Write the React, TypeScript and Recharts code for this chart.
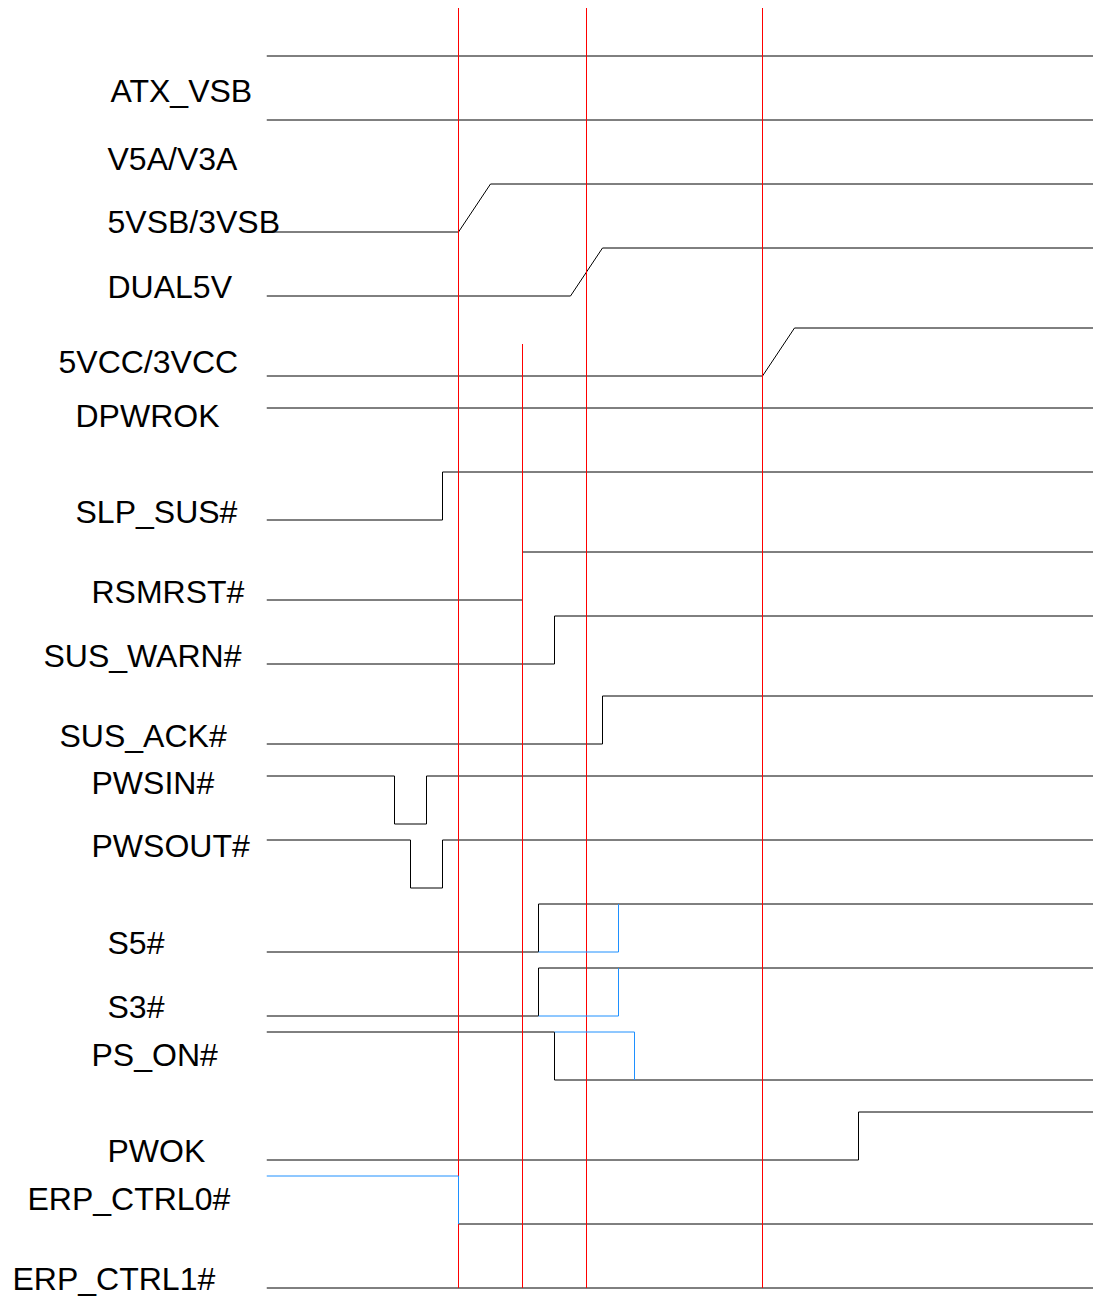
import { LineChart, Line, XAxis, YAxis } from "recharts";

type Pt = [number, number];

// time axis in 16px steps, level axis in 16px rows from the top
const T_END = 51.6875;
const Y_END = 80.625;

const labels = [
  "ATX_VSB", "V5A/V3A", "5VSB/3VSB", "DUAL5V", "5VCC/3VCC", "DPWROK",
  "SLP_SUS#", "RSMRST#", "SUS_WARN#", "SUS_ACK#", "PWSIN#", "PWSOUT#",
  "S5#", "S3#", "PS_ON#", "PWOK", "ERP_CTRL0#", "ERP_CTRL1#",
];
const labelRows = [
  5.16, 9.41, 13.34, 17.41, 22.09, 25.47, 31.47, 36.47, 40.47, 45.47,
  48.41, 52.34, 58.41, 62.41, 65.41, 71.41, 74.41, 79.41,
];
const labelLeft = [102, 99, 99, 99, 50, 67, 67, 83, 35, 51, 83, 83, 99, 99, 83, 99, 19, 4];

const atxVsb: Pt[] = [[0, 3], [T_END, 3]];
const v5a: Pt[] = [[0, 7], [T_END, 7]];
const vsb5: Pt[] = [[0, 14], [12, 14], [14, 11], [T_END, 11]];
const dual5v: Pt[] = [[0, 18], [19, 18], [21, 15], [T_END, 15]];
const vcc5: Pt[] = [[0, 23], [31, 23], [33, 20], [T_END, 20]];
const dpwrok: Pt[] = [[0, 25], [T_END, 25]];
const slpSus: Pt[] = [[0, 32], [11, 32], [11, 29], [T_END, 29]];
const rsmrst: Pt[] = [[0, 37], [16, 37], [16, 34], [T_END, 34]];
const susWarn: Pt[] = [[0, 41], [18, 41], [18, 38], [T_END, 38]];
const susAck: Pt[] = [[0, 46], [21, 46], [21, 43], [T_END, 43]];
const pwsin: Pt[] = [[0, 48], [8, 48], [8, 51], [10, 51], [10, 48], [T_END, 48]];
const pwsout: Pt[] = [[0, 52], [9, 52], [9, 55], [11, 55], [11, 52], [T_END, 52]];
const s5: Pt[] = [[0, 59], [17, 59], [17, 56], [T_END, 56]];
const s3: Pt[] = [[0, 63], [17, 63], [17, 60], [T_END, 60]];
const psOn: Pt[] = [[0, 64], [18, 64], [18, 67], [T_END, 67]];
const pwok: Pt[] = [[0, 72], [37, 72], [37, 69], [T_END, 69]];
const erp0: Pt[] = [[12, 76], [T_END, 76]];
const erp1: Pt[] = [[0, 80], [T_END, 80]];

const blackTraces = [
  atxVsb, v5a, vsb5, dual5v, vcc5, dpwrok, slpSus, rsmrst, susWarn,
  susAck, pwsin, pwsout, s5, s3, psOn, pwok, erp0, erp1,
];

// optional paths drawn in blue
const s5Alt: Pt[] = [[17, 59], [22, 59], [22, 56]];
const s3Alt: Pt[] = [[17, 63], [22, 63], [22, 60]];
const psOnAlt: Pt[] = [[18, 64], [23, 64], [23, 67]];
const erp0Alt: Pt[] = [[0, 73], [12, 73], [12, 76]];
const blueTraces = [s5Alt, s3Alt, psOnAlt, erp0Alt];

const markerTimes = [12, 16, 20, 31];
const markerTops = [0, 21, 0, 0];
const markerBottom = 80;

const toData = (pts: Pt[]) => pts.map(([t, v]) => ({ t, v }));

function SignalTick(props: any) {
  const { y, index } = props;
  return (
    <text
      x={labelLeft[index]}
      y={y}
      dy="0.35em"
      fontSize={32}
      fontFamily="'Liberation Sans', Arial, sans-serif"
      fill="#000"
    >
      {labels[index]}
    </text>
  );
}

export default function App() {
  return (
    <>
      <style>{"html,body{margin:0;overflow:hidden}"}</style>
      <div style={{ width: 1085, height: 1290, padding: "8px 0 0 8px", background: "#fff" }}>
        <div style={{ transform: "translateX(0.5px)" }}>
          <LineChart width={1085} height={1290} margin={{ top: 0, right: 0, bottom: 0, left: 0 }}>
            <XAxis
              dataKey="t"
              type="number"
              domain={[0, T_END]}
              ticks={[0, T_END]}
              hide
              allowDataOverflow
            />
            <YAxis
              type="number"
              domain={[0, Y_END]}
              reversed
              width={258}
              ticks={labelRows}
              interval={0}
              axisLine={false}
              tickLine={false}
              allowDataOverflow
              tick={<SignalTick />}
            />
            {blackTraces.map((pts, i) => (
              <Line
                key={`k${i}`}
                data={toData(pts)}
                dataKey="v"
                type="linear"
                stroke="#000"
                strokeWidth={1}
                dot={false}
                activeDot={false}
                isAnimationActive={false}
              />
            ))}
            {markerTimes.map((t, i) => (
              <Line
                key={`r${i}`}
                data={[{ t, v: markerTops[i] }, { t, v: markerBottom }]}
                dataKey="v"
                type="linear"
                stroke="#ff0000"
                strokeWidth={1}
                dot={false}
                activeDot={false}
                isAnimationActive={false}
              />
            ))}
            {blueTraces.map((pts, i) => (
              <Line
                key={`b${i}`}
                data={toData(pts)}
                dataKey="v"
                type="linear"
                stroke="#1E90FF"
                strokeWidth={1}
                dot={false}
                activeDot={false}
                isAnimationActive={false}
              />
            ))}
          </LineChart>
        </div>
      </div>
    </>
  );
}
